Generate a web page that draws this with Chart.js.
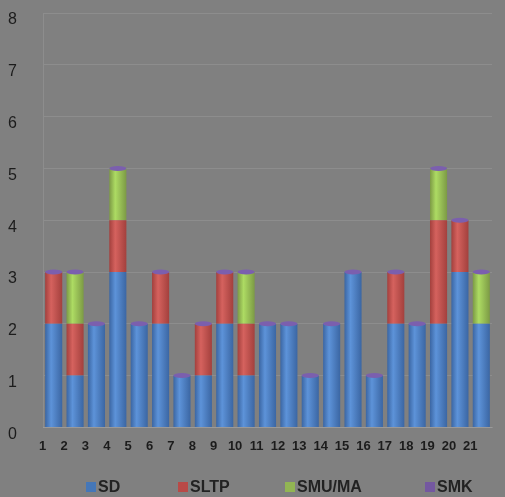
<!DOCTYPE html>
<html>
<head>
<meta charset="utf-8">
<script src="https://cdn.jsdelivr.net/npm/chart.js@4.4.1/dist/chart.umd.min.js"></script>
<style>
  html, body { margin: 0; padding: 0; background: #808080; overflow: hidden; }
  #wrap { position: relative; width: 505px; height: 497px; }
  #legend { position: absolute; top: 477px; left: 0; width: 505px; height: 20px;
    font: bold 16px "Liberation Sans", Arial, sans-serif; color: #222; }
  #legend span { position: absolute; top: 1px; line-height: 18px; }
  #legend i { display: inline-block; width: 10px; height: 10px; margin-right: 2px; vertical-align: 0px; }
</style>
</head>
<body>
<div id="wrap">
  <canvas id="chart" width="505" height="497"></canvas>
  <div id="legend"></div>
</div>
<script>
const labels = ['1','2','3','4','5','6','7','8','9','10','11','12','13','14','15','16','17','18','19','20','21'];
const sd     = [2,1,2,3,2,2,1,1,2,1,2,2,1,2,3,1,2,2,2,3,2];
const sltp   = [1,1,0,1,0,1,0,1,1,1,0,0,0,0,0,0,1,0,2,1,0];
const smuma  = [0,1,0,1,0,0,0,0,0,1,0,0,0,0,0,0,0,0,1,0,1];
const smk    = [0,0,0,0,0,0,0,0,0,0,0,0,0,0,0,0,0,0,0,0,0];
const yTicks = [0,1,2,3,4,5,6,7,8];

const colors = {
  SD:       ['#3b66a3', '#5d93d9', '#4577b8'],
  SLTP:     ['#a3403d', '#d5625e', '#b84a47'],
  'SMU/MA': ['#7c9a45', '#addb63', '#92b553'],
  SMK:      ['#63498a', '#8e70b8', '#7458a0']
};

// cylinder-ish shading for each bar
function shade(name) {
  return function(c) {
    const chart = c.chart;
    const xs = chart.scales.x;
    if (!xs || c.dataIndex == null) return colors[name][2];
    const cx = xs.getPixelForValue(c.dataIndex);
    const w = (xs.width / labels.length) * 0.8;
    if (!isFinite(cx) || !isFinite(w) || w <= 0) return colors[name][2];
    const g = chart.ctx.createLinearGradient(cx - w / 2, 0, cx + w / 2, 0);
    g.addColorStop(0, colors[name][0]);
    g.addColorStop(0.35, colors[name][1]);
    g.addColorStop(1, colors[name][0]);
    return g;
  };
}

// purple cap on top of each stack
const caps = {
  id: 'caps',
  afterDatasetsDraw(chart) {
    const xs = chart.scales.x, ys = chart.scales.y, ctx = chart.ctx;
    const w = (xs.width / labels.length) * 0.8;
    ctx.save();
    labels.forEach((l, i) => {
      const top = sd[i] + sltp[i] + smuma[i] + smk[i];
      const x = xs.getPixelForValue(i);
      const y = ys.getPixelForValue(top);
      ctx.beginPath();
      ctx.ellipse(x, y, w / 2, 2.5, 0, 0, Math.PI * 2);
      ctx.fillStyle = '#7b5fae';
      ctx.fill();
    });
    ctx.restore();
  }
};

const series = [
  { label: 'SD', data: sd },
  { label: 'SLTP', data: sltp },
  { label: 'SMU/MA', data: smuma },
  { label: 'SMK', data: smk }
];

const chart = new Chart(document.getElementById('chart'), {
  type: 'bar',
  data: {
    labels: labels,
    datasets: series.map(s => ({
      label: s.label,
      data: s.data,
      backgroundColor: shade(s.label),
      borderWidth: 0,
      barPercentage: 0.8,
      categoryPercentage: 1.0
    }))
  },
  plugins: [caps],
  options: {
    responsive: false,
    animation: false,
    layout: { padding: { top: 13, right: 13, bottom: 32, left: 8 } },
    plugins: { legend: { display: false }, tooltip: { enabled: false } },
    scales: {
      x: {
        stacked: true,
        grid: { display: false, drawTicks: false },
        border: { display: true, color: 'rgba(255,255,255,0.12)' },
        ticks: {
          color: '#1c1c1c', padding: 11, labelOffset: -11,
          maxRotation: 0, autoSkip: false,
          font: { family: '"Liberation Sans", Arial', size: 13, weight: 'bold' }
        }
      },
      y: {
        stacked: true, min: 0, max: 8,
        afterBuildTicks: s => { s.ticks = yTicks.map(v => ({ value: v })); },
        afterFit: s => { s.width = 35; },
        grid: { color: 'rgba(255,255,255,0.10)', drawTicks: false },
        border: { display: true, color: 'rgba(255,255,255,0.10)' },
        ticks: {
          color: '#1c1c1c', padding: 0, labelOffset: 7, crossAlign: 'far',
          font: { family: '"Liberation Sans", Arial', size: 16 }
        }
      }
    }
  }
});

// legend
const legendPos = [86, 178, 285, 425];
const legend = document.getElementById('legend');
series.forEach((s, i) => {
  const span = document.createElement('span');
  span.style.left = legendPos[i] + 'px';
  span.innerHTML = '<i style="background:' + colors[s.label][2] + '"></i>' + s.label;
  legend.appendChild(span);
});
</script>
</body>
</html>
